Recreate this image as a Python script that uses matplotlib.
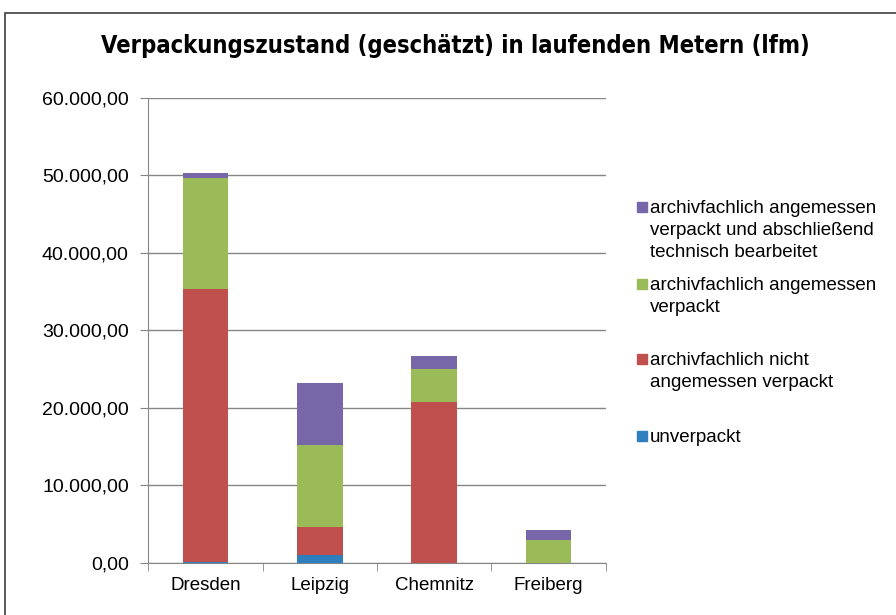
import numpy as np
import matplotlib
matplotlib.use("Agg")
import matplotlib.pyplot as plt
from matplotlib.patches import Rectangle
from matplotlib.ticker import FuncFormatter, FixedLocator

# Werte in lfm (aus dem Bild geschätzt)
standorte = ["Dresden", "Leipzig", "Chemnitz", "Freiberg"]
unverpackt = [150, 1030, 0, 0]
nicht_angemessen = [35250, 3620, 20780, 0]
angemessen = [14300, 10620, 4300, 2920]
bearbeitet = [600, 7970, 1640, 1340]

serien = ["unverpackt",
          "archivfachlich nicht\nangemessen verpackt",
          "archivfachlich angemessen\nverpackt",
          "archivfachlich angemessen\nverpackt und abschließend\ntechnisch bearbeitet"]
farben = ["#2F7EBE", "#C0504D", "#9BBB59", "#7767A8"]

plt.rcParams['font.family'] = ['Liberation Sans', 'DejaVu Sans']

fig = plt.figure(figsize=(8.96, 6.15), dpi=100)
ax = fig.add_axes([0.1655, 0.0846, 0.5105, 0.7561])

x = np.arange(len(standorte))
bottom = np.zeros(len(standorte))
for werte, farbe in zip([unverpackt, nicht_angemessen, angemessen, bearbeitet], farben):
    ax.bar(x, werte, width=0.4, bottom=bottom, color=farbe, zorder=3)
    bottom += np.array(werte)

ax.set_xlim(-0.5, 3.5)
ax.set_ylim(0, 60000)
ax.set_yticks(np.arange(0, 60001, 10000))
ax.yaxis.set_major_formatter(FuncFormatter(
    lambda v, p: f"{v:,.2f}".replace(",", "X").replace(".", ",").replace("X", ".")))
ax.grid(axis='y', color='#868686', lw=1, zorder=0)
ax.set_xticks(x)
ax.set_xticklabels(standorte)
ax.xaxis.set_minor_locator(FixedLocator(np.arange(-0.5, 4, 1)))
ax.tick_params(axis='x', which='major', length=0, pad=10, labelsize=13.5)
ax.tick_params(axis='x', which='minor', length=6, color='#868686')
ax.tick_params(axis='y', length=6, color='#868686', labelsize=14, pad=8)
for s in ['top', 'right']:
    ax.spines[s].set_visible(False)
for s in ['left', 'bottom']:
    ax.spines[s].set_color('#868686')

fig.text(0.508, 0.926, "Verpackungszustand (geschätzt) in laufenden Metern (lfm)",
         ha='center', va='center', fontsize=17, fontweight='bold',
         fontstretch='condensed', family=['DejaVu Sans'])

# Legende (oben nach unten: umgekehrte Reihenfolge)
leg_y = [207, 284, 359, 436]
for i, (lab, farbe) in enumerate(zip(serien[::-1], farben[::-1])):
    y = 1 - leg_y[i] / 615
    fig.add_artist(Rectangle((637 / 896, y - 5 / 615), 10 / 896, 10 / 615,
                             color=farbe, transform=fig.transFigure))
    fig.text(650 / 896, y + 7 / 615, lab, ha='left', va='top', fontsize=13.5,
             linespacing=1.4)

# Rahmen
fig.add_artist(Rectangle((5 / 896, -0.05), 1.1, 1 - 13 / 615 + 0.05, fill=False,
                         edgecolor='#404040', lw=1.2, transform=fig.transFigure))

fig.savefig("out.png", dpi=100)
